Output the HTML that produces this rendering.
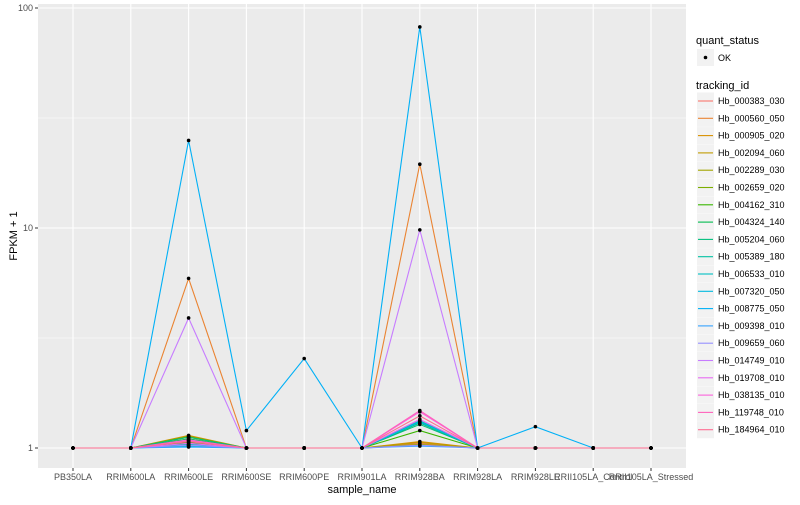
<!DOCTYPE html>
<html><head><meta charset="utf-8"><style>
body{margin:0;background:#fff;font-family:"Liberation Sans",sans-serif}
svg text{font-family:"Liberation Sans",sans-serif}
</style></head><body>
<svg id="chart" width="800" height="500" xmlns="http://www.w3.org/2000/svg">
<rect x="0" y="0" width="800" height="500" fill="#fff"/>
<rect x="38" y="4" width="648" height="464" fill="#EBEBEB"/>
<g id="grid"></g><g id="lines"></g><g id="points"></g><g id="axes"></g><g id="legend"></g>
</svg>
<script>
const categories=["PB350LA","RRIM600LA","RRIM600LE","RRIM600SE","RRIM600PE","RRIM901LA","RRIM928BA","RRIM928LA","RRIM928LE","RRII105LA_Control","RRII105LA_Stressed"];
const seriesNames=["Hb_000383_030","Hb_000560_050","Hb_000905_020","Hb_002094_060","Hb_002289_030","Hb_002659_020","Hb_004162_310","Hb_004324_140","Hb_005204_060","Hb_005389_180","Hb_006533_010","Hb_007320_050","Hb_008775_050","Hb_009398_010","Hb_009659_060","Hb_014749_010","Hb_019708_010","Hb_038135_010","Hb_119748_010","Hb_184964_010"];
const colors=["#F8766D","#EA8331","#D89000","#C09B00","#A3A500","#7CAE00","#39B600","#00BB4E","#00BF7D","#00C1A3","#00BFC4","#00BAE0","#00B0F6","#35A2FF","#9590FF","#C77CFF","#E76BF3","#FA62DB","#FF62BC","#FF6C91"];
const valLE=[1.1,5.9,1.14,1.12,1.08,1.13,1.06,1.1,1.12,1.04,1.02,1.03,25,1.01,1.03,3.9,1.05,1.09,1.08,1.07];
const valBA=[1.05,19.5,1.07,1.06,1.04,1.03,1.2,1.3,1.28,1.32,1.33,1.31,82,1.02,1.03,9.8,1.35,1.46,1.48,1.4];
const val600SE=[1,1,1,1,1,1,1,1,1,1,1,1,1.2,1,1,1,1,1,1,1];
const val600PE=[1,1,1,1,1,1,1,1,1,1,1,1,2.55,1,1,1,1,1,1,1];
const val928LE=[1,1,1,1,1,1,1,1,1,1,1,1,1.25,1,1,1,1,1,1,1];
const yTicks=[1,10,100];
const NS="http://www.w3.org/2000/svg";
function el(t,a,p){const e=document.createElementNS(NS,t);for(const k in a)e.setAttribute(k,a[k]);p.appendChild(e);return e;}
const x=i=>73+i*57.8;
const y=v=>448-220*Math.log10(v);
const grid=document.getElementById('grid'),lines=document.getElementById('lines'),pts=document.getElementById('points'),axes=document.getElementById('axes'),leg=document.getElementById('legend');
[3.1623,31.623].forEach(v=>{const l=el('line',{x1:38,x2:686,y1:y(v),y2:y(v),stroke:'#fff','stroke-width':0.5},grid);

});
yTicks.forEach(v=>{const l=el('line',{x1:38,x2:686,y1:y(v),y2:y(v),stroke:'#fff','stroke-width':1.1},grid);


const t=el('text',{x:33,y:y(v)+3,'text-anchor':'end','font-size':9,fill:'#4D4D4D'},axes);t.textContent=v;


el('line',{x1:35,x2:38,y1:y(v),y2:y(v),stroke:'#333'},axes);});
categories.forEach((c,i)=>{const l=el('line',{x1:x(i),x2:x(i),y1:4,y2:468,stroke:'#fff','stroke-width':1.1},grid);


el('line',{x1:x(i),x2:x(i),y1:468,y2:471,stroke:'#333'},axes);
const t=el('text',{x:x(i),y:480,'text-anchor':'middle','font-size':9,fill:'#4D4D4D'},axes);t.textContent=c;

});
seriesNames.forEach((n,s)=>{
 const vals=[1,1,valLE[s],val600SE[s],val600PE[s],1,valBA[s],1,val928LE[s],1,1];
 const p=el('polyline',{points:vals.map((v,i)=>x(i)+','+y(v)).join(' '),fill:'none',stroke:colors[s],'stroke-width':1.1},lines);
 
 
 vals.forEach((v,i)=>{const c=el('circle',{cx:x(i),cy:y(v),r:1.8,fill:'#000'},pts);
 
 });
});
let t=el('text',{x:362,y:493,'text-anchor':'middle','font-size':11,fill:'#000'},axes);t.textContent='sample_name';


t=el('text',{x:17,y:236,'text-anchor':'middle','font-size':11,fill:'#000',transform:'rotate(-90 17 236)'},axes);t.textContent='FPKM + 1';


t=el('text',{x:696,y:44,'font-size':11},leg);t.textContent='quant_status';


el('rect',{x:697,y:49,width:17,height:17,fill:'#F2F2F2'},leg);
el('circle',{cx:705.5,cy:57.5,r:1.8,fill:'#000'},leg);
t=el('text',{x:718,y:61,'font-size':9},leg);t.textContent='OK';


t=el('text',{x:696,y:89,'font-size':11},leg);t.textContent='tracking_id';


seriesNames.forEach((n,s)=>{const cy=101+s*17.3;
 el('rect',{x:697,y:cy-8.5,width:17,height:17,fill:'#F2F2F2'},leg);
 el('line',{x1:698,x2:713,y1:cy,y2:cy,stroke:colors[s],'stroke-width':1.1},leg);
 const tt=el('text',{x:718,y:cy+3,'font-size':9,fill:'#000'},leg);tt.textContent=n;
 
 });
</script>
</body></html>
